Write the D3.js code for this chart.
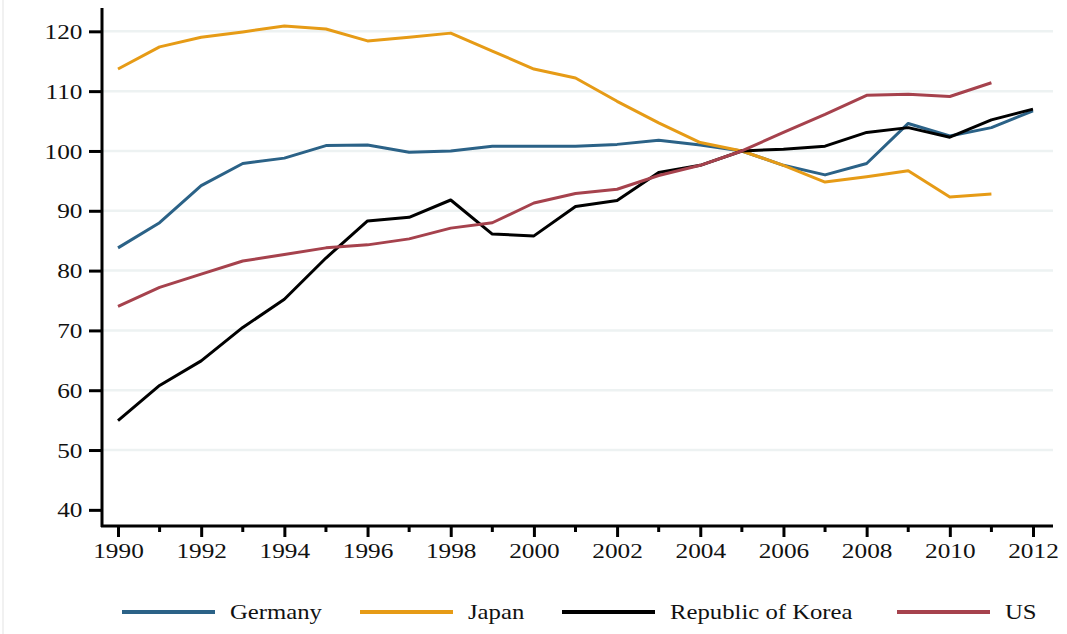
<!DOCTYPE html>
<html>
<head>
<meta charset="utf-8">
<script src="https://cdnjs.cloudflare.com/ajax/libs/d3/7.8.5/d3.min.js"></script>
<style>
  body { margin: 0; background: #fff; }
  svg text { font-family: "Liberation Serif", "DejaVu Serif", serif; fill: #111; }
</style>
</head>
<body>
<svg class="chart" width="1067" height="634"></svg>
<script>
// years on the x axis
var years = d3.range(1990, 2013);

var germany = [83.8, 88.0, 94.2, 97.9, 98.8, 100.9, 101.0, 99.8, 100.0, 100.8, 100.8, 100.8,
               101.1, 101.8, 101.0, 100.0, 97.6, 96.0, 97.9, 104.6, 102.5, 103.9, 106.7];
var japan = [113.7, 117.4, 119.0, 119.9, 120.9, 120.4, 118.4, 119.0, 119.7, 116.7, 113.7, 112.2,
             108.3, 104.7, 101.4, 100.0, 97.6, 94.8, 95.7, 96.7, 92.3, 92.8];
var korea = [54.9, 60.8, 64.9, 70.5, 75.2, 82.1, 88.3, 88.9, 91.8, 86.1, 85.8, 90.7,
             91.7, 96.4, 97.6, 100.0, 100.3, 100.8, 103.1, 103.9, 102.3, 105.2, 107.0];
var us = [74.0, 77.2, 79.4, 81.6, 82.7, 83.8, 84.3, 85.3, 87.1, 88.0, 91.3, 92.9,
          93.6, 95.9, 97.6, 100.0, 103.1, 106.1, 109.3, 109.5, 109.1, 111.4];

var seriesNames = ["Germany", "Japan", "Republic of Korea", "US"];
var seriesColors = ["#2b6287", "#e69b16", "#000000", "#a6424d"];
var seriesValues = [germany, japan, korea, us];

var yTicks = [40, 50, 60, 70, 80, 90, 100, 110, 120];
var xTicks = d3.range(1990, 2013, 2);
var xMinor = d3.range(1991, 2012, 2);

var svg = d3.select("svg.chart");
var plotLeft = 102, plotRight = 1053, plotTop = 8, plotBottom = 526;

var x = d3.scaleLinear().domain([1990, 2012]).range([118, 1033]);
var y = d3.scaleLinear().domain([37.3, 123.9]).range([plotBottom, plotTop]);

// faint border on the far left
svg.append("line")
    .attr("x1", 3).attr("x2", 3).attr("y1", 0).attr("y2", 634)
    .attr("stroke", "#ececec").attr("stroke-width", 1.5);

/* light horizontal grid */
svg.append("g")
    .selectAll("line")
    .data(yTicks.filter(function(d){ return d > 40; }))
    .enter().append("line")
    .attr("x1", plotLeft).attr("x2", plotRight)
    .attr("y1", function(d){ return y(d); })
    .attr("y2", function(d){ return y(d); })
    .attr("stroke", "#edf2f2")
    .attr("stroke-width", 2.5);

/* y axis */
var yAxis = svg.append("g")
    .attr("transform", "translate(" + plotLeft + ",0)")
    .call(d3.axisLeft(y).tickValues(yTicks).tickSize(13).tickSizeOuter(0).tickPadding(4));
yAxis.select(".domain").remove();
yAxis.selectAll(".tick line").attr("stroke", "#000").attr("stroke-width", 3);
yAxis.selectAll(".tick text")
    .style("font-size", "22px")
    .attr("transform", "scale(1.15,1)");

/* x axis */
var xAxis = svg.append("g")
    .attr("transform", "translate(0," + plotBottom + ")")
    .call(d3.axisBottom(x).tickValues(xTicks).tickFormat(d3.format("d")).tickSize(11).tickSizeOuter(0).tickPadding(5));
xAxis.select(".domain").remove();
xAxis.selectAll(".tick line").attr("stroke", "#000").attr("stroke-width", 3);
xAxis.selectAll(".tick text")
    .style("font-size", "22px")
    .attr("transform", "scale(1.15,1)");

xAxis.selectAll("line.minor")
    .data(xMinor)
    .enter().append("line")
    .attr("class", "minor")
    .attr("x1", function(d){ return x(d); })
    .attr("x2", function(d){ return x(d); })
    .attr("y1", 0).attr("y2", 6)
    .attr("stroke", "#000").attr("stroke-width", 3);

// axis lines
svg.append("line")
    .attr("x1", plotLeft).attr("x2", plotLeft).attr("y1", plotTop).attr("y2", plotBottom + 1)
    .attr("stroke", "#000").attr("stroke-width", 3);
svg.append("line")
    .attr("x1", plotLeft - 1).attr("x2", plotRight).attr("y1", plotBottom).attr("y2", plotBottom)
    .attr("stroke", "#000").attr("stroke-width", 3);

/* the lines */
var line = d3.line()
    .x(function(d, i){ return x(years[i]); })
    .y(function(d){ return y(d); });

seriesValues.forEach(function(vals, k){
    svg.append("path")
        .datum(vals)
        .attr("d", line)
        .attr("fill", "none")
        .attr("stroke", seriesColors[k])
        .attr("stroke-width", 3)
        .attr("stroke-linejoin", "round");
});

/* legend */
var legendX = [122, 360, 562, 897];
var legend = svg.append("g").selectAll("g")
    .data(seriesNames)
    .enter().append("g")
    .attr("transform", function(d, i){ return "translate(" + legendX[i] + ",612)"; });

legend.append("line")
    .attr("x1", 0).attr("x2", 93)
    .attr("y1", 0).attr("y2", 0)
    .attr("stroke", function(d, i){ return seriesColors[i]; })
    .attr("stroke-width", 4);

legend.append("text")
    .attr("transform", "translate(108,7) scale(1.15,1)")
    .style("font-size", "21.5px")
    .text(function(d){ return d; });
</script>
</body>
</html>
